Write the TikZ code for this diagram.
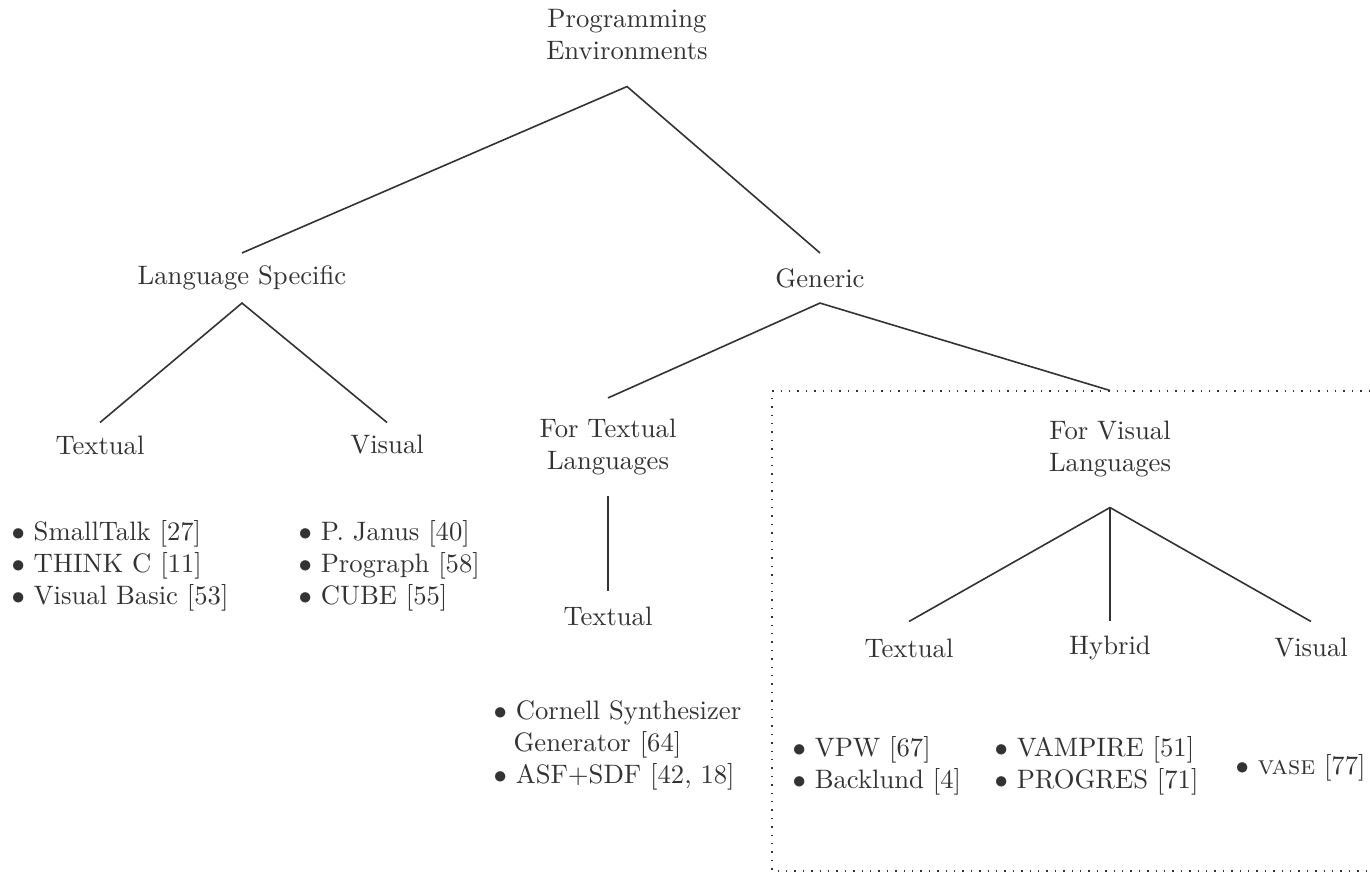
\documentclass[tikz,border=0pt]{standalone}
\begin{document}
\begin{tikzpicture}[x=0.375pt, y=-0.375pt,
  ink/.style={black!80},
  lbl/.style={ink, inner sep=0pt, align=center, minimum height=#1},
  lbl/.default=0pt,
  items/.style={ink, inner sep=0pt, align=left, anchor=west},
  branch/.style={ink, line width=0.6pt},
  frame/.style={ink, line width=0.55pt, dash pattern=on 0.55pt off 2.6pt}]

% canvas
\fill[white] (0,0) rectangle (1370,874);
\useasboundingbox (0,0) rectangle (1370,874);

% tree labels
\node[lbl=38.25pt] (root) at (627,35) {Programming\\Environments};
\node[lbl=18.4pt]  (ls)   at (242,278) {Language Specific};
\node[lbl=18.4pt]  (gen)  at (820,278) {Generic};
\node[lbl=16.5pt]  (lst)  at (100,445) {Textual};
\node[lbl=16.5pt]  (lsv)  at (387,445) {Visual};
\node[lbl=36.4pt]  (ftl)  at (608,447) {For Textual\\Languages};
\node[lbl=18pt]    (ftlt) at (608,616) {Textual};
\node[lbl=43.5pt]  (fvl)  at (1110,449) {For Visual\\Languages};
\node[lbl=19.5pt]  (fvt)  at (909,648) {Textual};
\node[lbl=19.5pt]  (fvh)  at (1110,648) {Hybrid};
\node[lbl=19.5pt]  (fvv)  at (1311,648) {Visual};

% item lists
\node[items] (l1) at (11,566)  {$\bullet$ SmallTalk [27]\\$\bullet$ THINK C [11]\\$\bullet$ Visual Basic [53]};
\node[items] (l2) at (298,566) {$\bullet$ P. Janus [40]\\$\bullet$ Prograph [58]\\$\bullet$ CUBE [55]};
\node[items] (l3) at (493,745) {$\bullet$ Cornell Synthesizer\\\hspace*{7.5pt}Generator [64]\\$\bullet$ ASF+SDF [42, 18]};
\node[items] (l4) at (792,766) {$\bullet$ VPW [67]\\$\bullet$ Backlund [4]};
\node[items] (l5) at (994,766) {$\bullet$ VAMPIRE [51]\\$\bullet$ PROGRES [71]};
\node[items] (l6) at (1235,768) {$\bullet$ \textsc{vase} [77]};

% branches
\draw[branch] (ls.north) -- (root.south) -- (gen.north);
\draw[branch] (lst.north) -- (ls.south) -- (lsv.north);
\draw[branch] (ftl.north) -- (gen.south) -- (fvl.north);
\draw[branch] (ftl.south) -- (ftlt.north);
\draw[branch] (fvt.north) -- (fvl.south) -- (fvv.north);
\draw[branch] (fvl.south) -- (fvh.north);

% dotted frame around the visual-language branch
\coordinate (ftr) at (1370,391);
\coordinate (fbr) at (1370,871);
\draw[frame] (ftr) -- (772,391) -- (772,871) -- (fbr);
\end{tikzpicture}
\end{document}
